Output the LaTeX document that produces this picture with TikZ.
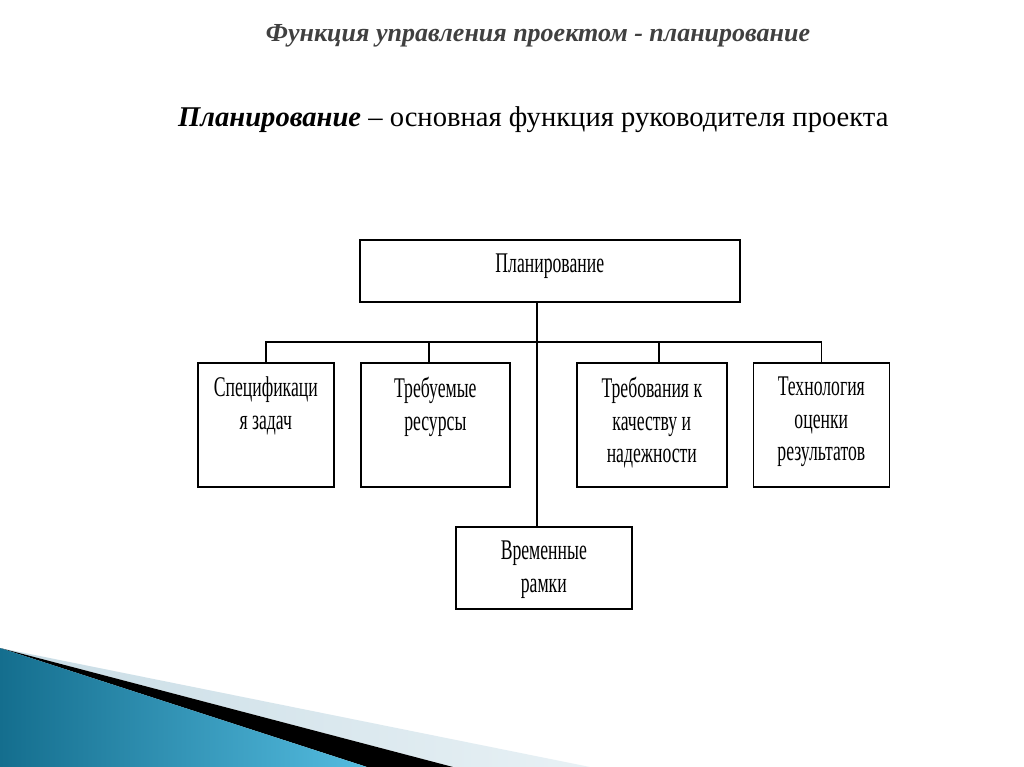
\documentclass[tikz,border=0pt]{standalone}
\usepackage{fontspec}
\setmainfont{Liberation Serif}
\newfontfamily\condf[FakeStretch=0.62]{Liberation Serif}
\definecolor{tealdark}{RGB}{20,110,142}
\definecolor{teallight}{RGB}{84,188,224}
\definecolor{stripeL}{RGB}{200,220,229}
\definecolor{stripeR}{RGB}{232,241,245}
\begin{document}
\begin{tikzpicture}[x=1pt,y=-1pt,
  box/.style={draw=black, line width=1.6pt, rectangle, inner sep=0pt, fill=white},
  lbl/.style={font=\condf\fontsize{28.5}{32.5}\selectfont, align=center, inner sep=0pt, anchor=north},
  conn/.style={draw=black, line width=1.6pt}]
\useasboundingbox (0,0) rectangle (1024,767);
\fill[white] (0,0) rectangle (1024,767);
% decoration bottom-left
\shade[left color=stripeL, right color=stripeR] (0,648) -- (590,767) -- (453,767) -- cycle;
\fill[black] (0,648) -- (453,767) -- (367,767) -- cycle;
\shade[left color=tealdark, right color=teallight] (0,648) -- (367,767) -- (0,767) -- cycle;
% titles
\node[anchor=base, font=\fontsize{26}{30}\selectfont\bfseries\itshape, text=black!75, inner sep=0pt] (title) at (538,42) {Функция управления проектом - планирование};
\node[anchor=base west, font=\fontsize{28.6}{32}\selectfont, inner sep=0pt] (sub) at (178,127) {\textbf{\textit{Планирование}} – основная функция руководителя проекта};
% boxes
\node[box, anchor=north west, minimum width=380, minimum height=62] (plan) at (359,239) {};
\node[box, anchor=north west, minimum width=136, minimum height=124] (spec) at (197,362) {};
\node[box, anchor=north west, minimum width=149, minimum height=124] (res) at (360,362) {};
\node[box, anchor=north west, minimum width=150, minimum height=124] (qual) at (576,362) {};
\node[box, anchor=north west, minimum width=136, minimum height=124] (tech) at (752.5,362) {};
\node[box, anchor=north west, minimum width=176, minimum height=82] (time) at (455,526) {};
% labels
\node[lbl] (plant) at ([yshift=-15]plan.north) {Планирование};
\node[lbl] (spect) at ([yshift=-15]spec.north) {Спецификаци\\я задач};
\node[lbl] (rest) at ([yshift=-15]res.north) {Требуемые\\ресурсы};
\node[lbl] (qualt) at ([yshift=-15]qual.north) {Требования к\\качеству и\\надежности};
\node[lbl] (techt) at ([yshift=-15]tech.north) {Технология\\оценки\\результатов};
\node[lbl] (timet) at ([yshift=-15]time.north) {Временные\\рамки};
% connectors
\coordinate (bar) at (537,342);
\draw[conn] (bar |- plan.south) -- (bar |- time.north);
\draw[conn] (spec.north) -- (spec.north |- bar) -- (tech.north |- bar) -- (tech.north);
\draw[conn] ([xshift=-6.5]res.north) -- ([xshift=-6.5]res.north |- bar);
\draw[conn] ([xshift=7]qual.north) -- ([xshift=7]qual.north |- bar);
\end{tikzpicture}
\end{document}
